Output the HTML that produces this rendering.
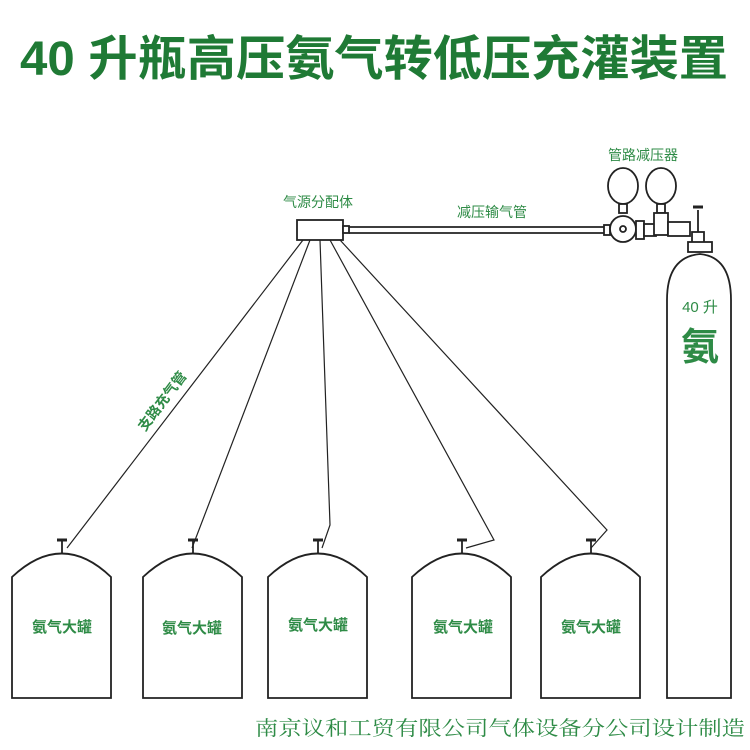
<!DOCTYPE html>
<html><head><meta charset="utf-8"><style>html,body{margin:0;padding:0;background:#fff}svg{display:block}</style></head>
<body>
<svg width="750" height="750" viewBox="0 0 750 750" xmlns="http://www.w3.org/2000/svg" font-family="'Liberation Sans','Noto Sans CJK SC',sans-serif">
<rect width="750" height="750" fill="#fff"/>
<text x="20" y="75" font-size="48" font-weight="bold" fill="#1f7a35" textLength="708" lengthAdjust="spacingAndGlyphs">40 升瓶高压氨气转低压充灌装置</text>

<g fill="#2e8b46" font-size="14">
<text x="318" y="207" text-anchor="middle">气源分配体</text>
<text x="492" y="217" text-anchor="middle">减压输气管</text>
<text x="643" y="160" text-anchor="middle">管路减压器</text>
<text transform="translate(145,432) rotate(-53)" font-weight="bold" font-size="14">支路充气管</text>
</g>

<g fill="none" stroke="#222" stroke-width="1.8">
<rect x="297" y="220" width="46" height="20" fill="#fff"/>
<rect x="343" y="226" width="6" height="7" fill="#fff"/>
<line x1="349" y1="227" x2="604" y2="227"/>
<line x1="349" y1="233" x2="604" y2="233"/>
<rect x="604" y="225" width="6" height="10"/>
<g stroke-width="1.2">
<polyline points="303,240 67,548"/>
<polyline points="310,240 192,548"/>
<polyline points="320,240 330,525 322,548"/>
<polyline points="330,240 494,540 466,548"/>
<polyline points="340,240 607,530 591,548"/>
</g>
<ellipse cx="623" cy="186" rx="15" ry="18" fill="#fff"/>
<rect x="619" y="204" width="8" height="9" fill="#fff"/>
<ellipse cx="661" cy="186" rx="15" ry="18" fill="#fff"/>
<rect x="657" y="204" width="8" height="9" fill="#fff"/>
<circle cx="623" cy="229" r="13" fill="#fff"/>
<circle cx="623" cy="229" r="3"/>
<rect x="636" y="221" width="8" height="18" fill="#fff"/>
<rect x="644" y="224" width="12" height="12" fill="#fff"/>
<rect x="654" y="213" width="14" height="22" fill="#fff"/>
<rect x="668" y="222" width="22" height="14" fill="#fff"/>
<line x1="698" y1="210" x2="698" y2="232"/>
<line x1="693" y1="207" x2="703" y2="207" stroke-width="3"/>
<rect x="692" y="232" width="12" height="12" fill="#fff"/>
<rect x="688" y="242" width="24" height="10" fill="#fff"/>
<path d="M667,698 L667,300 Q667,257 700,254 Q731,257 731,300 L731,698 Z" fill="#fff"/>
</g>
<text x="700" y="312" font-size="15" fill="#2e8b46" text-anchor="middle">40 升</text>
<text x="700" y="360" font-size="38" font-weight="bold" fill="#2e8b46" text-anchor="middle">氨</text>

<g fill="#fff" stroke="#222" stroke-width="1.8">
<g id="t"><path d="M12,698 L12,577 Q62,530 111,577 L111,698 Z"/><line x1="62" y1="553" x2="62" y2="541"/><line x1="57" y1="540" x2="67" y2="540" stroke-width="3"/></g>
<use href="#t" x="131"/>
<use href="#t" x="256"/>
<use href="#t" x="400"/>
<use href="#t" x="529"/>
</g>
<g fill="#2e8b46" font-size="15" font-weight="bold" text-anchor="middle">
<text x="62" y="632">氨气大罐</text>
<text x="192" y="633">氨气大罐</text>
<text x="318" y="630">氨气大罐</text>
<text x="463" y="632">氨气大罐</text>
<text x="591" y="632">氨气大罐</text>
</g>
<text x="255" y="735" font-size="20" fill="#2e8b46" textLength="490" lengthAdjust="spacingAndGlyphs" font-family="'Liberation Serif','Noto Serif CJK SC',serif">南京议和工贸有限公司气体设备分公司设计制造</text>
</svg>
</body></html>
